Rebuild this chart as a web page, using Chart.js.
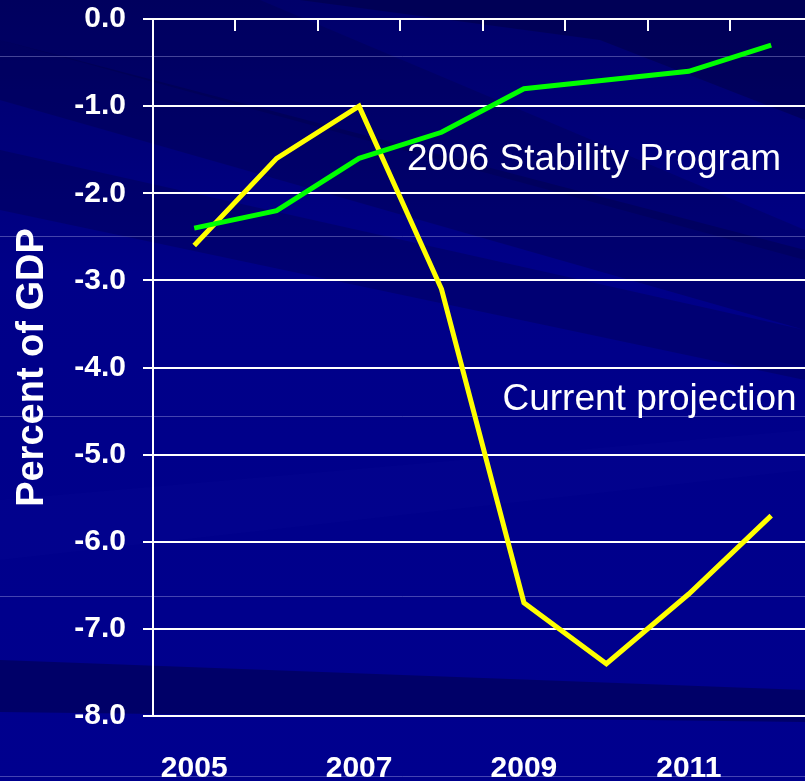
<!DOCTYPE html>
<html lang="en">
<head>
    <meta charset="UTF-8">
    <title>Percent of GDP</title>
    <script src="https://cdn.jsdelivr.net/npm/chart.js"></script>
    <style>
        body {
            margin: 0;
            background: #00008c;
            overflow: hidden;
        }
        #wrap {
            width: 805px;
            height: 781px;
        }
    </style>
</head>
<body>

<div id="wrap">
    <canvas id="myChart" width="805" height="781"></canvas>
</div>

<script>
    // data
    const years = [2005, 2006, 2007, 2008, 2009, 2010, 2011, 2012];
    const stabilityProgram = [-2.4, -2.2, -1.6, -1.3, -0.8, -0.7, -0.6, -0.3];
    const currentProjection = [-2.6, -1.6, -1.0, -3.1, -6.7, -7.4, -6.6, -5.7];
    const yearLabels = [2005, 2007, 2009, 2011];
    const topTicks = [2005.5, 2006.5, 2007.5, 2008.5, 2009.5, 2010.5, 2011.5];

    const FONT = '"Liberation Sans", Arial, sans-serif';

    function toPoints(values) {
        return years.map((yr, i) => ({ x: yr, y: values[i] }));
    }

    // slide-style background with dark diagonal streaks
    const backgroundPlugin = {
        id: 'slideBackground',
        beforeDraw(chart) {
            const c = chart.ctx;
            const w = chart.width, h = chart.height;
            c.save();
            const g = c.createLinearGradient(0, 0, 0, h);
            g.addColorStop(0, '#00006a');
            g.addColorStop(0.35, '#000088');
            g.addColorStop(1, '#00008e');
            c.fillStyle = g;
            c.fillRect(0, 0, w, h);

            function band(pts, color) {
                c.beginPath();
                c.moveTo(pts[0][0], pts[0][1]);
                pts.slice(1).forEach(p => c.lineTo(p[0], p[1]));
                c.closePath();
                c.fillStyle = color;
                c.fill();
            }
            band([[0, 40], [805, 250], [805, 330], [0, 100]], 'rgba(0,0,60,0.3)');
            band([[0, 150], [805, 330], [805, 380], [0, 210]], 'rgba(0,0,50,0.25)');
            band([[300, 0], [805, 0], [805, 120], [600, 40]], 'rgba(0,0,40,0.3)');
            band([[0, 0], [260, 0], [805, 230], [805, 260], [0, 40]], 'rgba(0,0,50,0.2)');
            band([[0, 660], [805, 690], [805, 722], [0, 712]], 'rgba(0,0,50,0.4)');
            band([[0, 500], [805, 430], [805, 470], [0, 560]], 'rgba(20,20,160,0.12)');

            // faint template rules
            c.strokeStyle = 'rgba(170,170,230,0.4)';
            c.lineWidth = 1;
            [56.5, 236.5, 416.5, 596.5, 776.5].forEach(y => {
                c.beginPath();
                c.moveTo(0, y);
                c.lineTo(w, y);
                c.stroke();
            });
            c.restore();
        }
    };

    // tick marks hanging from the 0.0 line + the two series labels
    const extrasPlugin = {
        id: 'extras',
        afterDatasetsDraw(chart) {
            const c = chart.ctx;
            const xs = chart.scales.x, ys = chart.scales.y;
            const top = ys.getPixelForValue(0);
            c.save();
            c.strokeStyle = '#ffffff';
            c.lineWidth = 2;
            topTicks.forEach(v => {
                const px = Math.round(xs.getPixelForValue(v));
                c.beginPath();
                c.moveTo(px, top);
                c.lineTo(px, top + 12);
                c.stroke();
            });
            c.fillStyle = '#ffffff';
            c.font = '37px ' + FONT;
            c.textBaseline = 'alphabetic';
            c.fillText('2006 Stability Program', xs.getPixelForValue(2007.58), ys.getPixelForValue(-1.73));
            c.fillText('Current projection', xs.getPixelForValue(2008.74), ys.getPixelForValue(-4.49));
            c.restore();
        }
    };

    const ctx = document.getElementById('myChart').getContext('2d');

    new Chart(ctx, {
        type: 'line',
        data: {
            datasets: [
                {
                    label: '2006 Stability Program',
                    data: toPoints(stabilityProgram),
                    borderColor: '#00ff00',
                    borderWidth: 5,
                    pointRadius: 0,
                    tension: 0
                },
                {
                    label: 'Current projection',
                    data: toPoints(currentProjection),
                    borderColor: '#ffff00',
                    borderWidth: 5,
                    pointRadius: 0,
                    tension: 0
                }
            ]
        },
        options: {
            responsive: false,
            animation: false,
            layout: { padding: { top: 19, right: 0, left: 0, bottom: 0 } },
            plugins: {
                legend: { display: false },
                tooltip: { enabled: false }
            },
            scales: {
                x: {
                    type: 'linear',
                    min: 2004.5,
                    max: 2012.41,
                    afterBuildTicks(scale) {
                        scale.ticks = yearLabels.map(v => ({ value: v }));
                    },
                    afterFit(scale) {
                        scale.height = 65;
                        scale.paddingLeft = 0;
                        scale.paddingRight = 0;
                    },
                    grid: { display: false },
                    border: { display: false },
                    ticks: {
                        color: '#ffffff',
                        font: { family: FONT, size: 30, weight: 'bold' },
                        padding: 27,
                        maxRotation: 0,
                        autoSkip: false,
                        callback: v => String(v)
                    }
                },
                y: {
                    min: -8,
                    max: 0,
                    afterFit(scale) {
                        scale.width = 153;
                        scale.paddingTop = 0;
                        scale.paddingBottom = 0;
                    },
                    grid: {
                        color: '#ffffff',
                        lineWidth: 2,
                        tickLength: 10,
                        tickColor: '#ffffff'
                    },
                    border: { display: true, color: '#ffffff', width: 2 },
                    ticks: {
                        stepSize: 1,
                        color: '#ffffff',
                        padding: 17,
                        font: { family: FONT, size: 30, weight: 'bold' },
                        callback: v => v.toFixed(1)
                    },
                    title: {
                        display: true,
                        text: 'Percent of GDP',
                        color: '#ffffff',
                        font: { family: FONT, size: 38, weight: 'bold' },
                        padding: { top: 10, bottom: 0 }
                    }
                }
            }
        },
        plugins: [backgroundPlugin, extrasPlugin]
    });
</script>

</body>
</html>
